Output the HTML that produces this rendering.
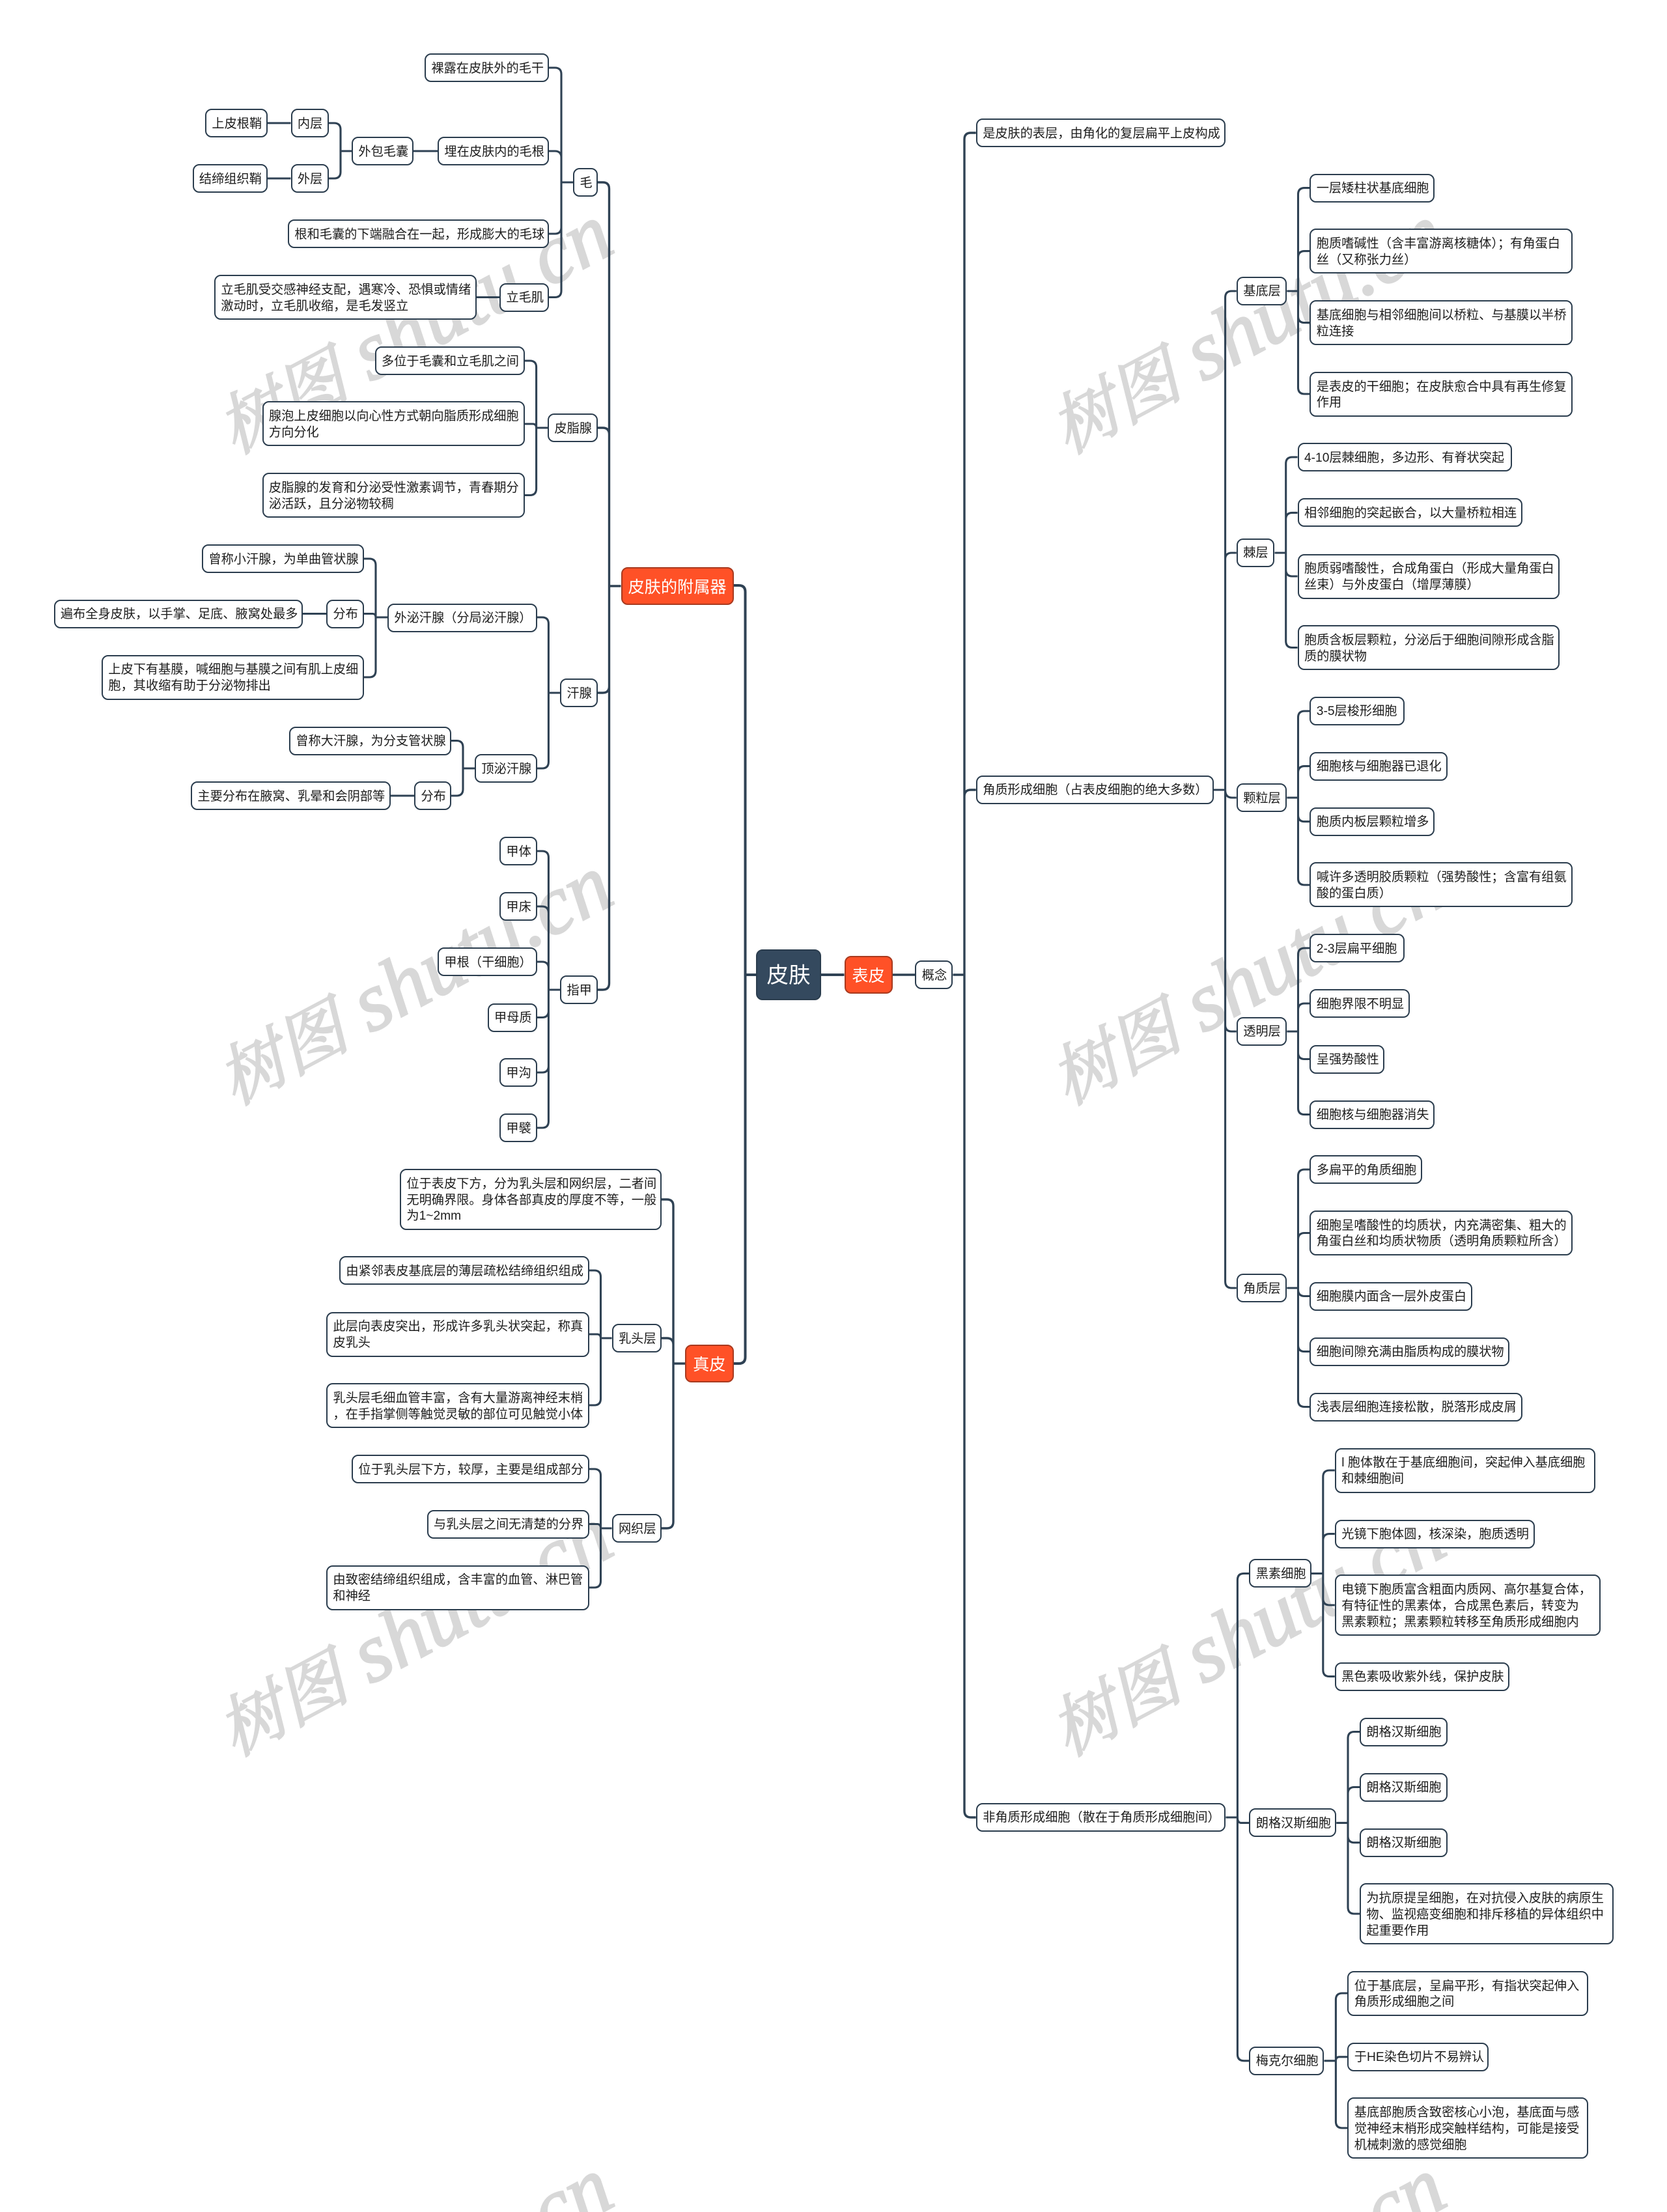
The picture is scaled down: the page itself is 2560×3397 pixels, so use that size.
<!DOCTYPE html>
<html lang="zh">
<head>
<meta charset="utf-8">
<title>皮肤</title>
<style>
html,body{margin:0;padding:0;background:#fff}
#p{position:relative;width:2560px;height:3397px;overflow:hidden;background:#fff;font-family:"Liberation Sans","Noto Sans CJK SC",sans-serif}
svg{position:absolute;left:0;top:0}
.n{position:absolute;box-sizing:border-box;background:#fff;border:2px solid #2b3d4e;border-radius:10px;color:#1c1c1c;font-size:19.2px;line-height:24.8px;padding:4px 0 0 8.4px;white-space:nowrap;display:flex;align-items:center}
.o{background:#ff5127;color:#fff;font-size:25.2px;line-height:30px;border-color:#a83a1f;justify-content:center;padding:3px 0 0}
.r{background:#34495e;color:#fff;font-size:33.6px;line-height:40px;justify-content:center;padding:3px 0 0}
.c{font-size:102px}
</style>
</head>
<body>
<div id="p">
<svg width="2560" height="3397" viewBox="0 0 2560 3397" style="pointer-events:none">
<g font-family="'Liberation Serif','Noto Serif CJK SC',serif" font-style="italic" font-size="128" fill="#d8d8d8" stroke="#d8d8d8" stroke-width="2.5">
<text transform="translate(360 698) rotate(-28)"><tspan class="c">树图</tspan> shutu.cn</text>
<text transform="translate(1639 698) rotate(-28)"><tspan class="c">树图</tspan> shutu.cn</text>
<text transform="translate(360 1698) rotate(-28)"><tspan class="c">树图</tspan> shutu.cn</text>
<text transform="translate(1639 1698) rotate(-28)"><tspan class="c">树图</tspan> shutu.cn</text>
<text transform="translate(360 2698) rotate(-28)"><tspan class="c">树图</tspan> shutu.cn</text>
<text transform="translate(1639 2698) rotate(-28)"><tspan class="c">树图</tspan> shutu.cn</text>
<text transform="translate(360 3698) rotate(-28)" x="546">cn</text>
<text transform="translate(1639 3698) rotate(-28)" x="546">cn</text>
</g>
</svg>
<svg width="2560" height="3397" viewBox="0 0 2560 3397" fill="none" stroke="#2f4254" stroke-width="3.1">
<g stroke-width="4">
<path d="M1161 1497H1144.5M1126.5 899H1134.5Q1144.5 899 1144.5 909V2084Q1144.5 2094 1134.5 2094H1126.5M1261 1497H1296.5"/>
</g>
<g stroke-width="3.4">
<path d="M918 280H925.5Q935.5 280 935.5 290V1510Q935.5 1520 925.5 1520H918M918 657H925.5Q935.5 657 935.5 667V900M918 1064H925.5Q935.5 1064 935.5 1054V900M935.5 900H953.5"/>
<path d="M1016 1842H1024Q1034 1842 1034 1852V2337Q1034 2347 1024 2347H1016M1016 2055H1024Q1034 2055 1034 2065V2094M1034 2094H1052"/>
<path d="M1370.6 1497H1405.4"/>
<path d="M1463.4 1497H1481M1498.8 204H1491Q1481 204 1481 214V2781Q1481 2791 1491 2791H1498.8M1498.8 1213H1491Q1481 1213 1481 1223V1497"/>
</g>
<path d="M843 104H852Q862 104 862 114V446.5Q862 456.5 852 456.5H843M843 232H852Q862 232 862 242V280M843 359H852Q862 359 862 349V280M862 280H880"/>
<path d="M504.5 189H513Q523 189 523 199V264Q523 274 513 274H504.5M523 232H540M411 189H446.5M411 274H446.5M635 232H672M731.5 456.5H767"/>
<path d="M806 554H813.6Q823.6 554 823.6 564V750.5Q823.6 760.5 813.6 760.5H806M806 651H818Q823.6 651 823.6 657M823.6 657H841"/>
<path d="M824.5 948H832.4Q842.4 948 842.4 958V1170Q842.4 1180 832.4 1180H824.5M842.4 1064H860"/>
<path d="M559 858H567Q577 858 577 868V1030Q577 1040 567 1040H559M559 942.5H572Q577 942.5 577 948M577 948H595M465 942.5H501"/>
<path d="M693 1137.5H701Q711 1137.5 711 1147.5V1212Q711 1222 701 1222H693M711 1180H729M600 1222H636"/>
<path d="M824.5 1307H832.4Q842.4 1307 842.4 1317V1722Q842.4 1732 832.4 1732H824.5M824.5 1392H832.4Q842.4 1392 842.4 1402V1520M824.5 1477H832.4Q842.4 1477 842.4 1487V1520M824.5 1562.5H832.4Q842.4 1562.5 842.4 1552.5V1520M824.5 1647H832.4Q842.4 1647 842.4 1637V1520M842.4 1520H860"/>
<path d="M904.5 1951H912.5Q922.5 1951 922.5 1961V2148Q922.5 2158 912.5 2158H904.5M904.5 2049H917Q922.5 2049 922.5 2055M922.5 2055H939.6"/>
<path d="M904.5 2256H912.5Q922.5 2256 922.5 2266V2428Q922.5 2438 912.5 2438H904.5M904.5 2340.5H917Q922.5 2340.5 922.5 2347M922.5 2347H939.6"/>
<path d="M1863.7 1213H1881.6M1898.8 447H1891.6Q1881.6 447 1881.6 457V1968Q1881.6 1978 1891.6 1978H1898.8M1898.8 849H1891.6Q1881.6 849 1881.6 859V1213M1898.8 1225H1892Q1881.6 1225 1881.6 1213M1898.8 1584H1891.6Q1881.6 1584 1881.6 1574V1213"/>
<path d="M1976.3 447H1993.5M2011.4 288.6H2003.5Q1993.5 288.6 1993.5 298.6V595Q1993.5 605 2003.5 605H2011.4M2011.4 385.6H2003.5Q1993.5 385.6 1993.5 395.6V447M2011.4 495.6H2003.5Q1993.5 495.6 1993.5 485.6V447"/>
<path d="M1957.5 849H1974.7M1992.6 702H1984.7Q1974.7 702 1974.7 712V984.5Q1974.7 994.5 1984.7 994.5H1992.6M1992.6 787.4H1984.7Q1974.7 787.4 1974.7 797.4V849M1992.6 885H1984.7Q1974.7 885 1974.7 875V849"/>
<path d="M1976.3 1225H1993.5M2011.4 1092H2003.5Q1993.5 1092 1993.5 1102V1349Q1993.5 1359 2003.5 1359H2011.4M2011.4 1176.6H2003.5Q1993.5 1176.6 1993.5 1186.6V1225M2011.4 1261.7H2003.5Q1993.5 1261.7 1993.5 1251.7V1225"/>
<path d="M1976.3 1584H1993.5M2011.4 1456H2003.5Q1993.5 1456 1993.5 1466V1701.6Q1993.5 1711.6 2003.5 1711.6H2011.4M2011.4 1541H2003.5Q1993.5 1541 1993.5 1551V1584M2011.4 1626.5H2003.5Q1993.5 1626.5 1993.5 1616.5V1584"/>
<path d="M1976.3 1978H1993.5M2011.4 1796H2003.5Q1993.5 1796 1993.5 1806V2150.5Q1993.5 2160.5 2003.5 2160.5H2011.4M2011.4 1893.5H2003.5Q1993.5 1893.5 1993.5 1903.5V1978M2011.4 1990.5H2003.5Q1993.5 1990.5 1993.5 1980.5V1978M2011.4 2075.6H2003.5Q1993.5 2075.6 1993.5 2065.6V1978"/>
<path d="M1882.4 2791H1900.4M1918.4 2416.4H1910.4Q1900.4 2416.4 1900.4 2426.4V3154.8Q1900.4 3164.8 1910.4 3164.8H1918.4M1918.4 2799.4H1906Q1900.4 2799.4 1900.4 2791"/>
<path d="M2014 2416.4H2031.8M2049.8 2258H2041.8Q2031.8 2258 2031.8 2268V2564.6Q2031.8 2574.6 2041.8 2574.6H2049.8M2049.8 2355.6H2041.8Q2031.8 2355.6 2031.8 2365.6V2416.4M2049.8 2465H2041.8Q2031.8 2465 2031.8 2455V2416.4"/>
<path d="M2052.2 2799.4H2070M2088 2659.5H2080Q2070 2659.5 2070 2669.5V2929Q2070 2939 2080 2939H2088M2088 2744.5H2080Q2070 2744.5 2070 2754.5V2799.4M2088 2829.7H2080Q2070 2829.7 2070 2819.7V2799.4"/>
<path d="M2033.4 3164.8H2051.4M2069.4 3061H2061.4Q2051.4 3061 2051.4 3071V3258Q2051.4 3268 2061.4 3268H2069.4M2069.4 3158.8H2057Q2051.4 3158.8 2051.4 3164.8"/>
</svg>

<div class="n r" style="left:1161px;top:1458px;width:100px;height:78px">皮肤</div>
<div class="n o" style="left:1296.5px;top:1468px;width:74px;height:58px">表皮</div>
<div class="n o" style="left:953.5px;top:871px;width:173px;height:58px">皮肤的附属器</div>
<div class="n o" style="left:1052px;top:2065px;width:74.5px;height:58px">真皮</div>

<div class="n" style="left:652px;top:82px;width:191px;height:44px">裸露在皮肤外的毛干</div>
<div class="n" style="left:315px;top:167px;width:96px;height:44px">上皮根鞘</div>
<div class="n" style="left:446.5px;top:167px;width:58px;height:44px">内层</div>
<div class="n" style="left:295.5px;top:252px;width:115.5px;height:44px">结缔组织鞘</div>
<div class="n" style="left:446.5px;top:252px;width:58px;height:44px">外层</div>
<div class="n" style="left:540px;top:210px;width:95px;height:44px">外包毛囊</div>
<div class="n" style="left:672px;top:210px;width:171px;height:44px">埋在皮肤内的毛根</div>
<div class="n" style="left:880px;top:258px;width:38px;height:44px">毛</div>
<div class="n" style="left:442px;top:337px;width:401px;height:44px">根和毛囊的下端融合在一起，形成膨大的毛球</div>
<div class="n" style="left:329px;top:422px;width:402.5px;height:69px">立毛肌受交感神经支配，遇寒冷、恐惧或情绪<br>激动时，立毛肌收缩，是毛发竖立</div>
<div class="n" style="left:767px;top:434.5px;width:76px;height:44px">立毛肌</div>
<div class="n" style="left:575.5px;top:532px;width:230.5px;height:44px">多位于毛囊和立毛肌之间</div>
<div class="n" style="left:402.5px;top:616px;width:403.5px;height:69px">腺泡上皮细胞以向心性方式朝向脂质形成细胞<br>方向分化</div>
<div class="n" style="left:841px;top:635px;width:77px;height:44px">皮脂腺</div>
<div class="n" style="left:402.5px;top:726px;width:403.5px;height:69px">皮脂腺的发育和分泌受性激素调节，青春期分<br>泌活跃，且分泌物较稠</div>

<div class="n" style="left:310px;top:836px;width:249px;height:44px">曾称小汗腺，为单曲管状腺</div>
<div class="n" style="left:82.5px;top:920.5px;width:382.5px;height:44px">遍布全身皮肤，以手掌、足底、腋窝处最多</div>
<div class="n" style="left:501px;top:920.5px;width:58px;height:44px">分布</div>
<div class="n" style="left:595px;top:926.5px;width:229.5px;height:44px">外泌汗腺（分局泌汗腺）</div>
<div class="n" style="left:156px;top:1005.5px;width:403px;height:69px">上皮下有基膜，喊细胞与基膜之间有肌上皮细<br>胞，其收缩有助于分泌物排出</div>
<div class="n" style="left:860px;top:1042px;width:58px;height:44px">汗腺</div>
<div class="n" style="left:444px;top:1115.5px;width:249px;height:44px">曾称大汗腺，为分支管状腺</div>
<div class="n" style="left:729px;top:1158px;width:95.5px;height:44px">顶泌汗腺</div>
<div class="n" style="left:293px;top:1200px;width:307px;height:44px">主要分布在腋窝、乳晕和会阴部等</div>
<div class="n" style="left:636px;top:1200px;width:57px;height:44px">分布</div>

<div class="n" style="left:767px;top:1285px;width:57.5px;height:44px">甲体</div>
<div class="n" style="left:767px;top:1370px;width:57.5px;height:44px">甲床</div>
<div class="n" style="left:672px;top:1455px;width:152.5px;height:44px">甲根（干细胞）</div>
<div class="n" style="left:748.6px;top:1540.5px;width:76px;height:44px">甲母质</div>
<div class="n" style="left:767px;top:1625px;width:57.5px;height:44px">甲沟</div>
<div class="n" style="left:767px;top:1710px;width:57.5px;height:44px">甲襞</div>
<div class="n" style="left:860px;top:1498px;width:58px;height:44px">指甲</div>

<div class="n" style="left:614px;top:1795px;width:402px;height:94px">位于表皮下方，分为乳头层和网织层，二者间<br>无明确界限。身体各部真皮的厚度不等，一般<br>为1~2mm</div>
<div class="n" style="left:521px;top:1929px;width:383.5px;height:44px">由紧邻表皮基底层的薄层疏松结缔组织组成</div>
<div class="n" style="left:501px;top:2014.5px;width:403.5px;height:69px">此层向表皮突出，形成许多乳头状突起，称真<br>皮乳头</div>
<div class="n" style="left:939.6px;top:2033px;width:76.4px;height:44px">乳头层</div>
<div class="n" style="left:501px;top:2124px;width:403.5px;height:69px">乳头层毛细血管丰富，含有大量游离神经末梢<br>，在手指掌侧等触觉灵敏的部位可见触觉小体</div>
<div class="n" style="left:540px;top:2234px;width:364.5px;height:44px">位于乳头层下方，较厚，主要是组成部分</div>
<div class="n" style="left:655.5px;top:2318.5px;width:249px;height:44px">与乳头层之间无清楚的分界</div>
<div class="n" style="left:939.6px;top:2325px;width:76.4px;height:44px">网织层</div>
<div class="n" style="left:501px;top:2403.5px;width:403.5px;height:69px">由致密结缔组织组成，含丰富的血管、淋巴管<br>和神经</div>

<div class="n" style="left:1405.4px;top:1475px;width:58px;height:44px">概念</div>
<div class="n" style="left:1498.8px;top:182px;width:383.6px;height:44px">是皮肤的表层，由角化的复层扁平上皮构成</div>
<div class="n" style="left:1498.8px;top:1190.5px;width:365px;height:44px">角质形成细胞（占表皮细胞的绝大多数）</div>
<div class="n" style="left:1498.8px;top:2768.7px;width:383.6px;height:44px">非角质形成细胞（散在于角质形成细胞间）</div>

<div class="n" style="left:1898.8px;top:424.5px;width:77.5px;height:44px">基底层</div>
<div class="n" style="left:2011.4px;top:266.7px;width:191.6px;height:44px">一层矮柱状基底细胞</div>
<div class="n" style="left:2011.4px;top:351.3px;width:403.3px;height:69px">胞质嗜碱性（含丰富游离核糖体）；有角蛋白<br>丝（又称张力丝）</div>
<div class="n" style="left:2011.4px;top:461.3px;width:403.3px;height:69px">基底细胞与相邻细胞间以桥粒、与基膜以半桥<br>粒连接</div>
<div class="n" style="left:2011.4px;top:570.8px;width:403.3px;height:69px">是表皮的干细胞；在皮肤愈合中具有再生修复<br>作用</div>

<div class="n" style="left:1898.8px;top:826.7px;width:58.7px;height:44px">棘层</div>
<div class="n" style="left:1992.6px;top:680.3px;width:329.8px;height:44px">4-10层棘细胞，多边形、有脊状突起</div>
<div class="n" style="left:1992.6px;top:765.4px;width:345.4px;height:44px">相邻细胞的突起嵌合，以大量桥粒相连</div>
<div class="n" style="left:1992.6px;top:850.5px;width:402.4px;height:69px">胞质弱嗜酸性，合成角蛋白（形成大量角蛋白<br>丝束）与外皮蛋白（增厚薄膜）</div>
<div class="n" style="left:1992.6px;top:960px;width:402.4px;height:69px">胞质含板层颗粒，分泌后于细胞间隙形成含脂<br>质的膜状物</div>

<div class="n" style="left:1898.8px;top:1203.4px;width:77.5px;height:44px">颗粒层</div>
<div class="n" style="left:2011.4px;top:1069.7px;width:146.1px;height:44px">3-5层梭形细胞</div>
<div class="n" style="left:2011.4px;top:1154.6px;width:211.4px;height:44px">细胞核与细胞器已退化</div>
<div class="n" style="left:2011.4px;top:1239.8px;width:191.6px;height:44px">胞质内板层颗粒增多</div>
<div class="n" style="left:2011.4px;top:1324.3px;width:403.3px;height:69px">喊许多透明胶质颗粒（强势酸性；含富有组氨<br>酸的蛋白质）</div>

<div class="n" style="left:1898.8px;top:1561.8px;width:77.5px;height:44px">透明层</div>
<div class="n" style="left:2011.4px;top:1434px;width:146.1px;height:44px">2-3层扁平细胞</div>
<div class="n" style="left:2011.4px;top:1519.2px;width:153.6px;height:44px">细胞界限不明显</div>
<div class="n" style="left:2011.4px;top:1604.6px;width:115.1px;height:44px">呈强势酸性</div>
<div class="n" style="left:2011.4px;top:1689.7px;width:191.6px;height:44px">细胞核与细胞器消失</div>

<div class="n" style="left:1898.8px;top:1956.4px;width:77.5px;height:44px">角质层</div>
<div class="n" style="left:2011.4px;top:1774.3px;width:173.1px;height:44px">多扁平的角质细胞</div>
<div class="n" style="left:2011.4px;top:1858.8px;width:403.3px;height:69px">细胞呈嗜酸性的均质状，内充满密集、粗大的<br>角蛋白丝和均质状物质（透明角质颗粒所含）</div>
<div class="n" style="left:2011.4px;top:1968.5px;width:249.8px;height:44px">细胞膜内面含一层外皮蛋白</div>
<div class="n" style="left:2011.4px;top:2053.6px;width:307px;height:44px">细胞间隙充满由脂质构成的膜状物</div>
<div class="n" style="left:2011.4px;top:2138.6px;width:326.6px;height:44px">浅表层细胞连接松散，脱落形成皮屑</div>

<div class="n" style="left:1918.4px;top:2394.4px;width:95.6px;height:44px">黑素细胞</div>
<div class="n" style="left:2049.8px;top:2223.7px;width:400px;height:69px">l 胞体散在于基底细胞间，突起伸入基底细胞<br>和棘细胞间</div>
<div class="n" style="left:2049.8px;top:2333.7px;width:306.9px;height:44px">光镜下胞体圆，核深染，胞质透明</div>
<div class="n" style="left:2049.8px;top:2418.3px;width:408.2px;height:94px">电镜下胞质富含粗面内质网、高尔基复合体，<br>有特征性的黑素体，合成黑色素后，转变为<br>黑素颗粒；黑素颗粒转移至角质形成细胞内</div>
<div class="n" style="left:2049.8px;top:2552.6px;width:268.6px;height:44px">黑色素吸收紫外线，保护皮肤</div>

<div class="n" style="left:1918.4px;top:2777.4px;width:133.8px;height:44px">朗格汉斯细胞</div>
<div class="n" style="left:2088px;top:2637.5px;width:134.8px;height:44px">朗格汉斯细胞</div>
<div class="n" style="left:2088px;top:2722.6px;width:134.8px;height:44px">朗格汉斯细胞</div>
<div class="n" style="left:2088px;top:2807.8px;width:134.8px;height:44px">朗格汉斯细胞</div>
<div class="n" style="left:2088px;top:2892.3px;width:389.5px;height:94px">为抗原提呈细胞，在对抗侵入皮肤的病原生<br>物、监视癌变细胞和排斥移植的异体组织中<br>起重要作用</div>

<div class="n" style="left:1918.4px;top:3142.8px;width:115px;height:44px">梅克尔细胞</div>
<div class="n" style="left:2069.4px;top:3026.8px;width:369.6px;height:69px">位于基底层，呈扁平形，有指状突起伸入<br>角质形成细胞之间</div>
<div class="n" style="left:2069.4px;top:3136.8px;width:216.3px;height:44px">于HE染色切片不易辨认</div>
<div class="n" style="left:2069.4px;top:3221.4px;width:369.6px;height:94px">基底部胞质含致密核心小泡，基底面与感<br>觉神经末梢形成突触样结构，可能是接受<br>机械刺激的感觉细胞</div>
</div>
</body>
</html>
